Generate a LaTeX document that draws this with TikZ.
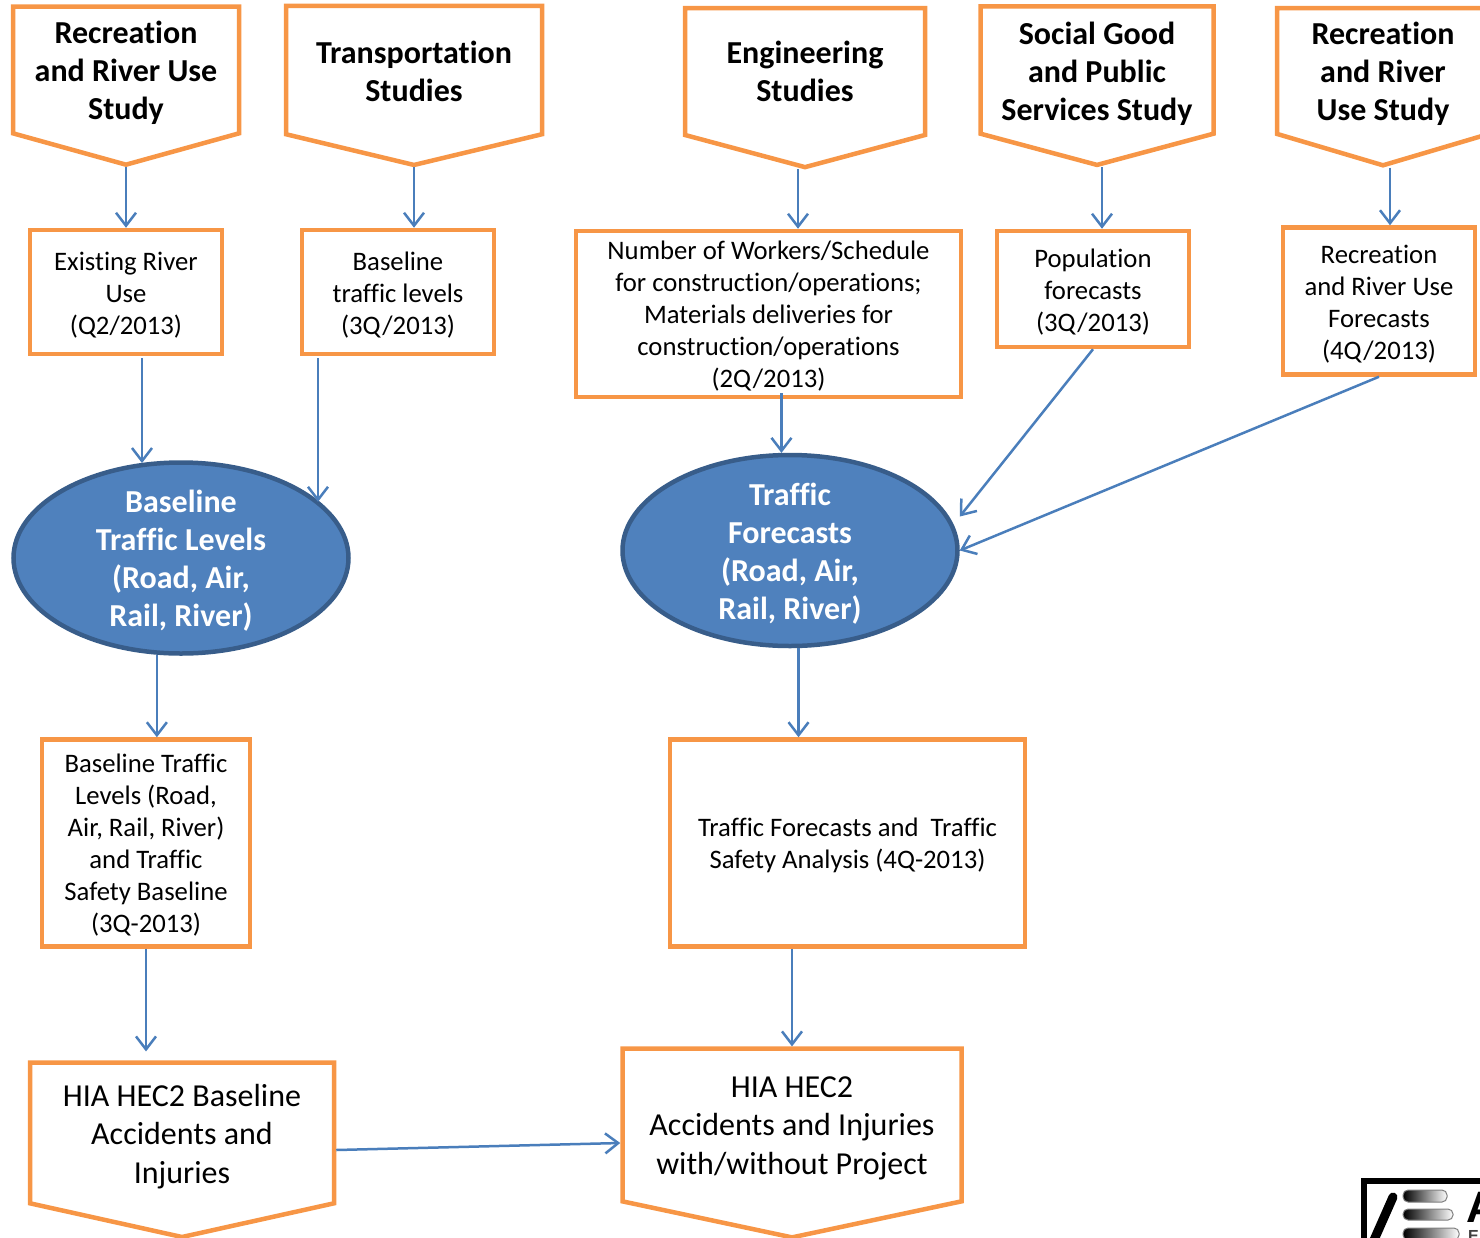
\documentclass[tikz,border=0pt]{standalone}
\usepackage{fontspec}
\setmainfont[Ligatures=NoCommon]{Carlito}
\newfontfamily\logofont{Liberation Sans}
\usetikzlibrary{arrows.meta, shapes.geometric, shapes.symbols}
\definecolor{boxorange}{HTML}{F79646}
\definecolor{flowblue}{HTML}{4A7EBB}
\definecolor{ovalfill}{HTML}{4F81BD}
\definecolor{ovalline}{HTML}{385D8A}
\newcommand{\droptext}[1]{\rule{0pt}{#1}}
\tikzset{
  study/.style={signal, signal to=south, signal from=nowhere, signal pointer angle=150, draw=boxorange, line width=4.5pt, fill=white, align=center, font=\fontsize{32}{38}\selectfont\bfseries, inner sep=0pt},
  output/.style={study, font=\fontsize{32}{38.5}\selectfont\mdseries},
  resultbox/.style={rectangle, draw=boxorange, line width=4.5pt, fill=white, align=center, font=\fontsize{26.7}{32}\selectfont, inner sep=0pt},
  traffic/.style={ellipse, draw=ovalline, line width=4.5pt, fill=ovalfill, inner sep=0pt, minimum width=335pt, minimum height=191pt},
  traffictext/.style={text=white, align=center, font=\fontsize{32}{38}\selectfont\bfseries, inner sep=0pt},
  flow/.style={draw=flowblue, line width=2.5pt, -{Straight Barb[length=13pt,width=20pt,line width=2.5pt]}},
  logobar/.style={draw=gray, line width=1pt, rounded corners=5pt, left color=black, right color=white},
}
\begin{document}
\begin{tikzpicture}[x=1pt,y=-1pt]
\useasboundingbox (0,0) rectangle (1480,1237);
% studies along the top
\node[study, minimum width=226pt, minimum height=152pt, signal pointer angle=149] (riverstudy) at (126,70) {\droptext{29pt}Recreation\\and River Use\\Study};
\node[study, minimum width=256pt, minimum height=152pt, signal pointer angle=153] (transstudy) at (414,70) {\droptext{25pt}Transportation\\Studies};
\node[study, minimum width=240pt, minimum height=148pt] (engstudy) at (805,71.5) {Engineering\\Studies};
\node[study, minimum width=233pt, minimum height=153pt] (socialstudy) at (1097,70) {\droptext{31pt}Social Good\\and Public\\Services Study};
\node[study, minimum width=212pt, minimum height=147pt, signal pointer angle=147] (recstudy) at (1383,71) {\droptext{29pt}Recreation\\and River\\Use Study};
% results of the studies
\node[resultbox, minimum width=192pt, minimum height=124pt] (riveruse) at (126,292) {\droptext{25.5pt}Existing River\\Use\\(Q2/2013)};
\node[resultbox, minimum width=192pt, minimum height=124pt] (baselevels) at (398,292) {\droptext{25.5pt}Baseline\\traffic levels\\(3Q/2013)};
\node[resultbox, minimum width=385pt, minimum height=166pt] (workers) at (768.5,314) {\droptext{23.5pt}Number of Workers/Schedule\\for construction/operations;\\Materials deliveries for\\construction/operations\\(2Q/2013)};
\node[resultbox, minimum width=192pt, minimum height=116pt] (population) at (1093,289) {\droptext{25.5pt}Population\\forecasts\\(3Q/2013)};
\node[resultbox, minimum width=192pt, minimum height=147pt] (recforecast) at (1379,301) {\droptext{25.5pt}Recreation\\and River Use\\Forecasts\\(4Q/2013)};
% the two ovals
\node[traffic] (baseoval) at (181,558) {};
\node[traffictext] (basetext) at ([yshift=-3pt]baseoval.center) {Baseline\\Traffic Levels\\(Road, Air,\\Rail, River)};
\node[traffic] (forecastoval) at (790,550.5) {};
\node[traffictext] (forecasttext) at ([yshift=-3pt]forecastoval.center) {Traffic\\Forecasts\\(Road, Air,\\Rail, River)};
% traffic reports
\node[resultbox, minimum width=208pt, minimum height=207pt] (basereport) at (146,843) {\droptext{23.5pt}Baseline Traffic\\Levels (Road,\\Air, Rail, River)\\and Traffic\\Safety Baseline\\(3Q-2013)};
\node[resultbox, minimum width=355pt, minimum height=207pt] (forecastreport) at (847.5,843) {\droptext{23.5pt}Traffic Forecasts and~ Traffic\\Safety Analysis (4Q-2013)};
% HIA outputs
\node[output, minimum width=304pt, minimum height=167pt, signal pointer angle=155] (hiabase) at (182,1133) {\droptext{29pt}HIA HEC2 Baseline\\Accidents and\\Injuries};
\node[output, minimum width=339pt, minimum height=183pt, signal pointer angle=156] (hiaproject) at (792,1125) {\droptext{26.5pt}HIA HEC2\\Accidents and Injuries\\with/without Project};
% connectors
\draw[flow] (riverstudy.south) -- (riveruse.north);
\draw[flow] (transstudy.south) -- (transstudy.south |- baselevels.north);
\draw[flow] ([xshift=-7pt]engstudy.south) -- ([xshift=-7pt]engstudy.south |- workers.north);
\draw[flow] ([xshift=5pt]socialstudy.south) -- ([xshift=5pt]socialstudy.south |- population.north);
\draw[flow] ([xshift=7pt]recstudy.south) -- ([xshift=7pt]recstudy.south |- recforecast.north);
\draw[flow] ([xshift=16pt,yshift=-2pt]riveruse.south) -- ([xshift=16pt]riveruse.south |- baseoval.113);
\draw[flow] ([xshift=-80pt,yshift=-2pt]baselevels.south) -- ([xshift=-80pt]baselevels.south |- baseoval.22);
\draw[flow] ([yshift=6pt]workers.south -| forecastoval.95) -- (forecastoval.95);
\draw[flow] (population.south) -- ([yshift=34pt]forecastoval.east);
\draw[flow] (recforecast.south) -- (forecastoval.east);
\draw[flow] (baseoval.256) -- (baseoval.256 |- basereport.north);
\draw[flow] (forecastoval.275) -- (forecastoval.275 |- forecastreport.north);
\draw[flow] (basereport.south) -- ([yshift=9pt]hiabase.north -| basereport.south);
\draw[flow] (forecastreport.south -| hiaproject.north) -- (hiaproject.north);
\draw[flow] ([yshift=-17pt]hiabase.east) -- ([yshift=-18pt]hiaproject.west);
% logo in the corner
\node[draw=black, line width=6pt, fill=white, minimum width=160pt, minimum height=100pt, anchor=north west] (logobox) at (1361,1178) {};
\draw[line width=9pt, line cap=round] (1393,1197) -- (1374,1240);
\draw[logobar] (1403,1190) rectangle (1447,1202);
\draw[logobar] (1403,1209) rectangle (1453,1220);
\draw[logobar] (1403,1228) rectangle (1459,1240);
\node[anchor=base west, inner sep=0pt, font=\logofont\fontsize{44}{44}\selectfont\bfseries] (logoA) at (1466,1222) {A};
\node[anchor=base west, inner sep=0pt, font=\logofont\fontsize{16}{16}\selectfont\bfseries, text=darkgray] (logoE) at (1468,1241) {E};
\end{tikzpicture}
\end{document}
